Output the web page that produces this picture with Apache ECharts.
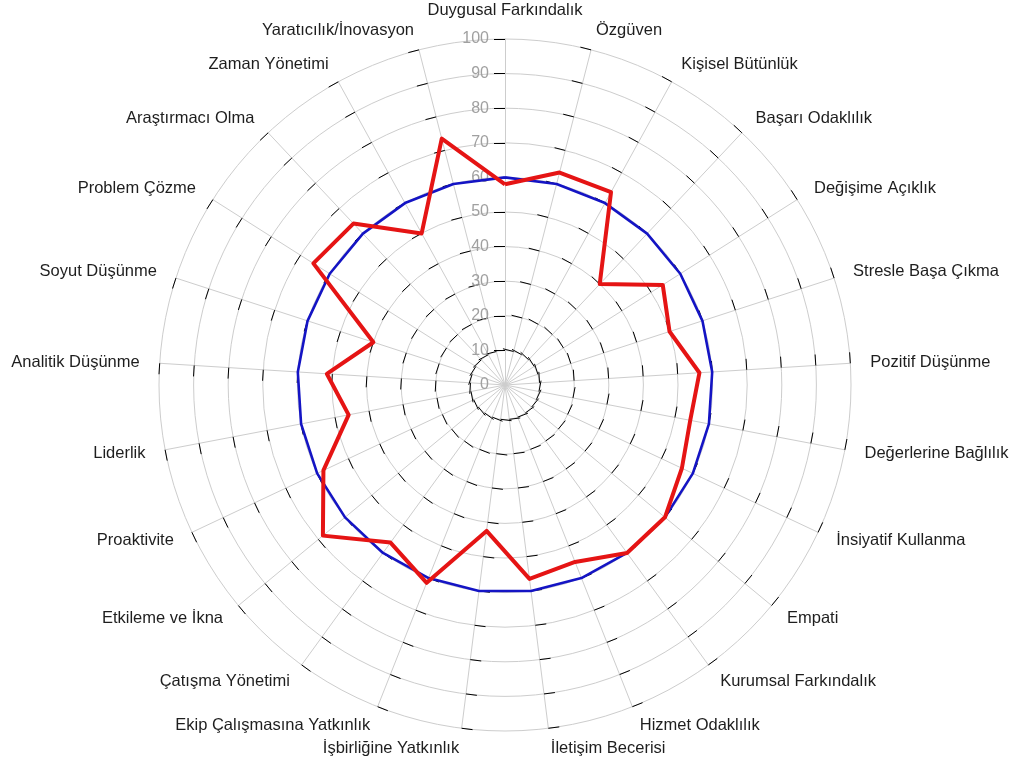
<!DOCTYPE html>
<html>
<head>
<meta charset="utf-8">
<script src="https://cdn.jsdelivr.net/npm/echarts@6/dist/echarts.min.js"></script>
<style>
html,body{margin:0;padding:0;background:#fff;}
#chart{width:1015px;height:762px;}
</style>
</head>
<body>
<div id="chart"></div>
<script>
// Categories, clockwise from the top
const categories = [
  'Duygusal Farkındalık','Özgüven','Kişisel Bütünlük','Başarı Odaklılık','Değişime Açıklık',
  'Stresle Başa Çıkma','Pozitif Düşünme','Değerlerine Bağlılık','İnsiyatif Kullanma','Empati',
  'Kurumsal Farkındalık','Hizmet Odaklılık','İletişim Becerisi','İşbirliğine Yatkınlık',
  'Ekip Çalışmasına Yatkınlık','Çatışma Yönetimi','Etkileme ve İkna','Proaktivite','Liderlik',
  'Analitik Düşünme','Soyut Düşünme','Problem Çözme','Araştırmacı Olma','Zaman Yönetimi',
  'Yaratıcılık/İnovasyon'
];
// Benchmark (blue) and score (red), clockwise from the top
const blueValues = [60,60,60,60,60,60,60,60,60,60,60,60,60,60,60,60,60,60,60,60,60,60,60,60,60];
const redValues  = [58,63.4,63.6,40,54,50,56.3,54.5,56.5,60,60,55,56.5,42.5,61.5,56.3,68.3,58,46,51.6,40,65.6,64,50,73.5];
const tickValues = [10,20,30,40,50,60,70,80,90,100];
const axisMin = 0, axisMax = 100;

// ECharts radar runs counter-clockwise: reorder so the picture reads clockwise
function ccw(arr){ return [arr[0]].concat(arr.slice(1).reverse()); }
const font = '"Liberation Sans", Arial, sans-serif';

const chart = echarts.init(document.getElementById('chart'), null, {renderer:'canvas'});
chart.setOption({
  animation: false,
  backgroundColor: '#ffffff',
  radar: {
    center: [505, 385],
    radius: 346,
    startAngle: 90,
    shape: 'circle',
    splitNumber: 10,
    indicator: ccw(categories).map((n, i) => {
      const o = {name: n, min: axisMin, max: axisMax};
      if (i === 0) o.axisLabel = {show: true};
      return o;
    }),
    axisName: {color: '#1e1e1e', fontSize: 16.5, fontFamily: font},
    axisNameGap: 20,
    splitLine: {lineStyle: {color: '#cdcdcd', width: 1}},
    splitArea: {show: false},
    axisLine: {show: true, lineStyle: {color: '#cdcdcd', width: 1}},
    axisTick: {show: true, length: 11, customValues: tickValues, lineStyle: {color: '#000', width: 1}},
    axisLabel: {show: false, color: '#a0a0a0', fontSize: 16, fontFamily: font, margin: 16}
  },
  series: [{
    type: 'radar',
    symbol: 'none',
    silent: true,
    z: 2,
    lineStyle: {color: '#1414c4', width: 2.6},
    data: [{value: ccw(blueValues)}]
  }, {
    type: 'radar',
    symbol: 'none',
    silent: true,
    z: 3,
    lineStyle: {color: '#e51414', width: 4},
    data: [{value: ccw(redValues)}]
  }]
});
</script>
</body>
</html>
